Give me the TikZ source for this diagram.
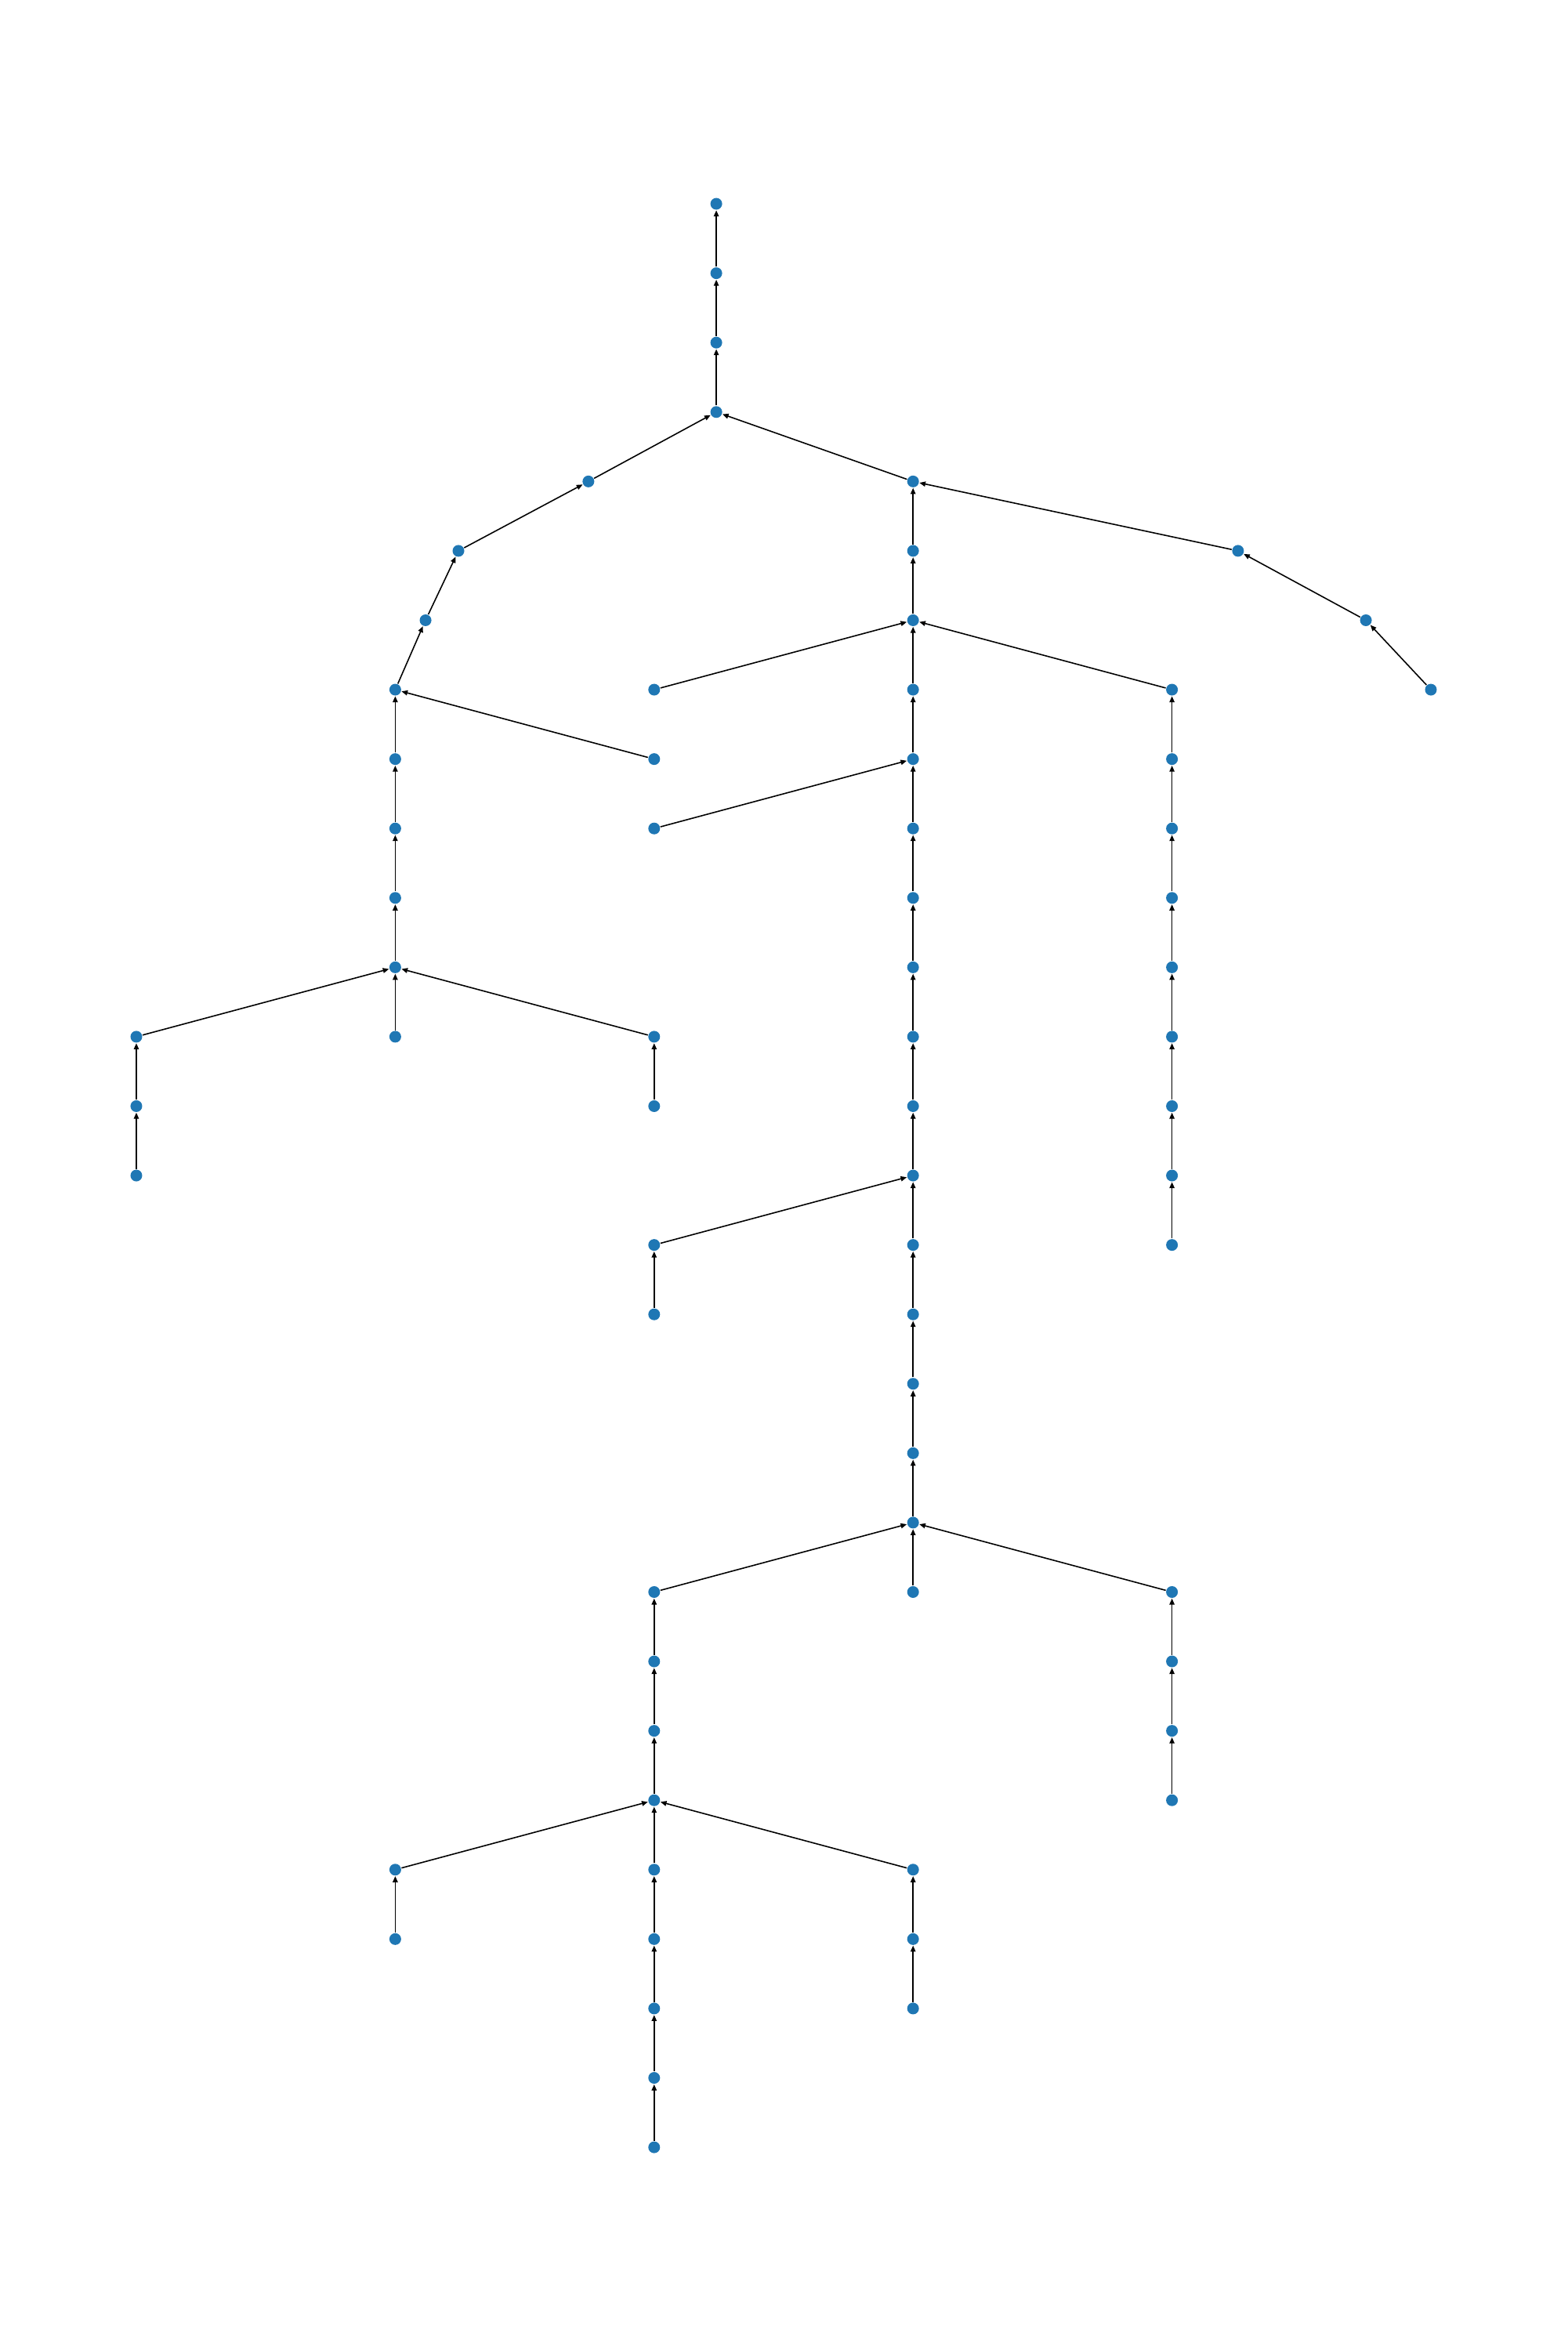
\documentclass[tikz,border=0pt]{standalone}
\usetikzlibrary{arrows.meta}
\definecolor{dotblue}{HTML}{1F77B4}

\begin{document}
\begin{tikzpicture}[x=3.304cm, y=-0.8857cm, line width=0.45pt,
	arrows={-Triangle[length=2.2pt, width=1.8pt]},
	dot/.style={circle, fill=dotblue, inner sep=0pt, minimum size=1.5mm}]
	\useasboundingbox (-0.5266,-2.936) rectangle (5.527,30.935);

% TRUNK
	\node [dot] (root) at (2.24,0) {};
	\node [dot] (s1) at (2.24,1) {};
	\node [dot] (s2) at (2.24,2) {};
	\node [dot] (hub) at (2.24,3) {};
	\draw (s1) -- (root);
	\draw (s2) -- (s1);
	\draw (hub) -- (s2);

% LEFT ARM
	\node [dot] (w1) at (1.746,4) {};
	\node [dot] (w2) at (1.244,5) {};
	\node [dot] (w3) at (1.117,6) {};
	\node [dot] (x1y7) at (1,7) {};
	\node [dot] (x1y8) at (1,8) {};  \node [dot] (x2y8) at (2,8) {};
	\node [dot] (x1y9) at (1,9) {};
	\node [dot] (x1y10) at (1,10) {};
	\node [dot] (x1y11) at (1,11) {};
	\node [dot] (x0y12) at (0,12) {}; \node [dot] (x1y12) at (1,12) {}; \node [dot] (x2y12) at (2,12) {};
	\node [dot] (x0y13) at (0,13) {}; \node [dot] (x2y13) at (2,13) {};
	\node [dot] (x0y14) at (0,14) {};

	\draw (w1) -- (hub);
	\draw (w2) -- (w1);
	\draw (w3) -- (w2);
	\draw (x1y7) -- (w3);
	\draw (x1y8) -- (x1y7); \draw (x2y8) -- (x1y7);
	\draw (x1y9) -- (x1y8);
	\draw (x1y10) -- (x1y9);
	\draw (x1y11) -- (x1y10);
	\draw (x0y12) -- (x1y11); \draw (x1y12) -- (x1y11); \draw (x2y12) -- (x1y11);
	\draw (x0y13) -- (x0y12); \draw (x2y13) -- (x2y12);
	\draw (x0y14) -- (x0y13);

% RIGHT ARM
	\node [dot] (x3y4) at (3,4) {};
	\node [dot] (e1) at (4.255,5) {};
	\node [dot] (e2) at (4.749,6) {};
	\node [dot] (x5y7) at (5,7) {};
	\draw (x3y4) -- (hub);
	\draw (e1) -- (x3y4);
	\draw (e2) -- (e1);
	\draw (x5y7) -- (e2);

	\node [dot] (x3y5) at (3,5) {};
	\node [dot] (x3y6) at (3,6) {};
	\node [dot] (x2y7) at (2,7) {}; \node [dot] (x3y7) at (3,7) {}; \node [dot] (x4y7) at (4,7) {};
	\draw (x3y5) -- (x3y4);
	\draw (x3y6) -- (x3y5);
	\draw (x2y7) -- (x3y6); \draw (x3y7) -- (x3y6); \draw (x4y7) -- (x3y6);

	\node [dot] (x4y8) at (4,8) {};   \node [dot] (x4y9) at (4,9) {};
	\node [dot] (x4y10) at (4,10) {}; \node [dot] (x4y11) at (4,11) {};
	\node [dot] (x4y12) at (4,12) {}; \node [dot] (x4y13) at (4,13) {};
	\node [dot] (x4y14) at (4,14) {}; \node [dot] (x4y15) at (4,15) {};
	\draw (x4y8) -- (x4y7);   \draw (x4y9) -- (x4y8);
	\draw (x4y10) -- (x4y9);  \draw (x4y11) -- (x4y10);
	\draw (x4y12) -- (x4y11); \draw (x4y13) -- (x4y12);
	\draw (x4y14) -- (x4y13); \draw (x4y15) -- (x4y14);

% MAIN COLUMN
	\node [dot] (x3y8) at (3,8) {};
	\node [dot] (x2y9) at (2,9) {};   \node [dot] (x3y9) at (3,9) {};
	\node [dot] (x3y10) at (3,10) {}; \node [dot] (x3y11) at (3,11) {};
	\node [dot] (x3y12) at (3,12) {}; \node [dot] (x3y13) at (3,13) {};
	\node [dot] (x3y14) at (3,14) {};
	\node [dot] (x2y15) at (2,15) {}; \node [dot] (x3y15) at (3,15) {};
	\node [dot] (x2y16) at (2,16) {}; \node [dot] (x3y16) at (3,16) {};
	\node [dot] (x3y17) at (3,17) {}; \node [dot] (x3y18) at (3,18) {};
	\node [dot] (x3y19) at (3,19) {};
	\draw (x3y8) -- (x3y7);
	\draw (x2y9) -- (x3y8);   \draw (x3y9) -- (x3y8);
	\draw (x3y10) -- (x3y9);  \draw (x3y11) -- (x3y10);
	\draw (x3y12) -- (x3y11); \draw (x3y13) -- (x3y12);
	\draw (x3y14) -- (x3y13);
	\draw (x2y15) -- (x3y14); \draw (x3y15) -- (x3y14);
	\draw (x2y16) -- (x2y15); \draw (x3y16) -- (x3y15);
	\draw (x3y17) -- (x3y16); \draw (x3y18) -- (x3y17);
	\draw (x3y19) -- (x3y18);

% LOWER BRANCHES
	\node [dot] (x2y20) at (2,20) {}; \node [dot] (x3y20) at (3,20) {}; \node [dot] (x4y20) at (4,20) {};
	\node [dot] (x2y21) at (2,21) {}; \node [dot] (x4y21) at (4,21) {};
	\node [dot] (x2y22) at (2,22) {}; \node [dot] (x4y22) at (4,22) {};
	\node [dot] (x2y23) at (2,23) {}; \node [dot] (x4y23) at (4,23) {};
	\draw (x2y20) -- (x3y19); \draw (x3y20) -- (x3y19); \draw (x4y20) -- (x3y19);
	\draw (x2y21) -- (x2y20); \draw (x4y21) -- (x4y20);
	\draw (x2y22) -- (x2y21); \draw (x4y22) -- (x4y21);
	\draw (x2y23) -- (x2y22); \draw (x4y23) -- (x4y22);

	\node [dot] (x1y24) at (1,24) {}; \node [dot] (x2y24) at (2,24) {}; \node [dot] (x3y24) at (3,24) {};
	\node [dot] (x1y25) at (1,25) {}; \node [dot] (x2y25) at (2,25) {}; \node [dot] (x3y25) at (3,25) {};
	\node [dot] (x2y26) at (2,26) {}; \node [dot] (x3y26) at (3,26) {};
	\node [dot] (x2y27) at (2,27) {};
	\node [dot] (x2y28) at (2,28) {};
	\draw (x1y24) -- (x2y23); \draw (x2y24) -- (x2y23); \draw (x3y24) -- (x2y23);
	\draw (x1y25) -- (x1y24); \draw (x2y25) -- (x2y24); \draw (x3y25) -- (x3y24);
	\draw (x2y26) -- (x2y25); \draw (x3y26) -- (x3y25);
	\draw (x2y27) -- (x2y26);
	\draw (x2y28) -- (x2y27);

\end{tikzpicture}
\end{document}
